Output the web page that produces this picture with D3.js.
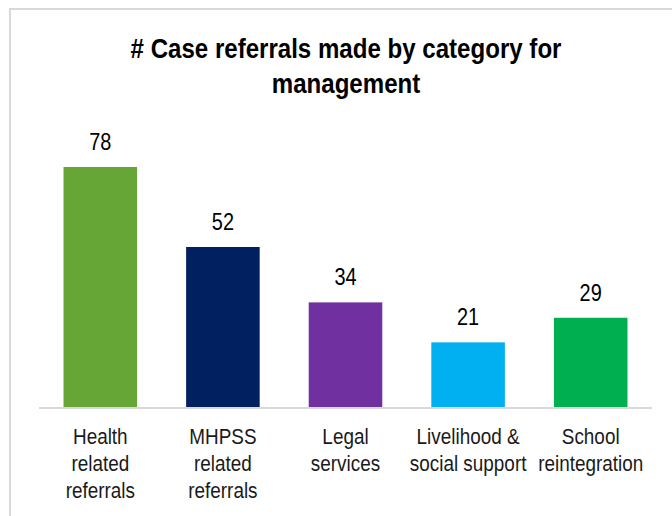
<!DOCTYPE html>
<html>
<head>
<meta charset="utf-8">
<script src="https://cdn.jsdelivr.net/npm/d3@7"></script>
<style>
  body { margin: 0; background: #fff; }
  svg { display: block; font-family: "Liberation Sans", Arial, sans-serif; }
</style>
</head>
<body>
<script>
//chart data
var categories = [
  ["Health", "related", "referrals"],
  ["MHPSS", "related", "referrals"],
  ["Legal", "services"],
  ["Livelihood &", "social support"],
  ["School", "reintegration"]
];
var values = [78, 52, 34, 21, 29];
var colors = ["#66a637", "#002060", "#7030a0", "#00b0f0", "#00b050"];
var titleLines = ["# Case referrals made by category for", "management"];

var width = 672,
    height = 516;

var svg = d3.select("body")
    .append("svg")
    .attr("width", width)
    .attr("height", height);

//narrow text: translate to anchor then squeeze horizontally
function narrow(x, y, sx){
  return "translate(" + x + "," + y + ") scale(" + sx + ",1)";
}

//chart area border (runs off the right and bottom edge)
svg.append("rect")
    .attr("x", 10)
    .attr("y", 9)
    .attr("width", 700)
    .attr("height", 560)
    .attr("fill", "none")
    .attr("stroke", "#d9d9d9")
    .attr("stroke-width", 2);

//title
svg.selectAll(".title")
    .data(titleLines)
    .enter()
    .append("text")
    .attr("class", "title")
    .attr("transform", function(d, i){ return narrow(346, 58 + i * 35, 0.86); })
    .attr("text-anchor", "middle")
    .attr("font-weight", "bold")
    .attr("font-size", "28px")
    .attr("fill", "#000")
    .text(function(d){ return d; });

var x = d3.scaleBand()
    .domain(d3.range(values.length))
    .range([39, 652])
    .paddingInner(0.4)
    .paddingOuter(0.2);

var y = d3.scaleLinear()
    .domain([0, 90])
    .range([407, 407 - 90 * 240 / 78]);

//bars
svg.selectAll(".bar")
    .data(values)
    .enter()
    .append("rect")
    .attr("class", "bar")
    .attr("x", function(d, i){ return x(i); })
    .attr("y", function(d){ return y(d); })
    .attr("width", x.bandwidth())
    .attr("height", function(d){ return y(0) - y(d); })
    .attr("fill", function(d, i){ return colors[i]; });

//baseline
svg.append("line")
    .attr("x1", 39)
    .attr("x2", 652)
    .attr("y1", y(0) + 1)
    .attr("y2", y(0) + 1)
    .attr("stroke", "#d9d9d9")
    .attr("stroke-width", 2);

//value labels
svg.selectAll(".val")
    .data(values)
    .enter()
    .append("text")
    .attr("class", "val")
    .attr("transform", function(d, i){
      return narrow(x(i) + x.bandwidth() / 2, y(d) - 17, 0.83);
    })
    .attr("text-anchor", "middle")
    .attr("font-size", "24px")
    .attr("fill", "#000")
    .text(function(d){ return d; });

//category labels
categories.forEach(function(lines, i){
  svg.selectAll(".cat" + i)
      .data(lines)
      .enter()
      .append("text")
      .attr("class", "cat cat" + i)
      .attr("transform", function(d, j){
        return narrow(x(i) + x.bandwidth() / 2, 444 + j * 27, 0.86);
      })
      .attr("text-anchor", "middle")
      .attr("font-size", "22px")
      .attr("fill", "#1a1a1a")
      .text(function(d){ return d; });
});
</script>
</body>
</html>
